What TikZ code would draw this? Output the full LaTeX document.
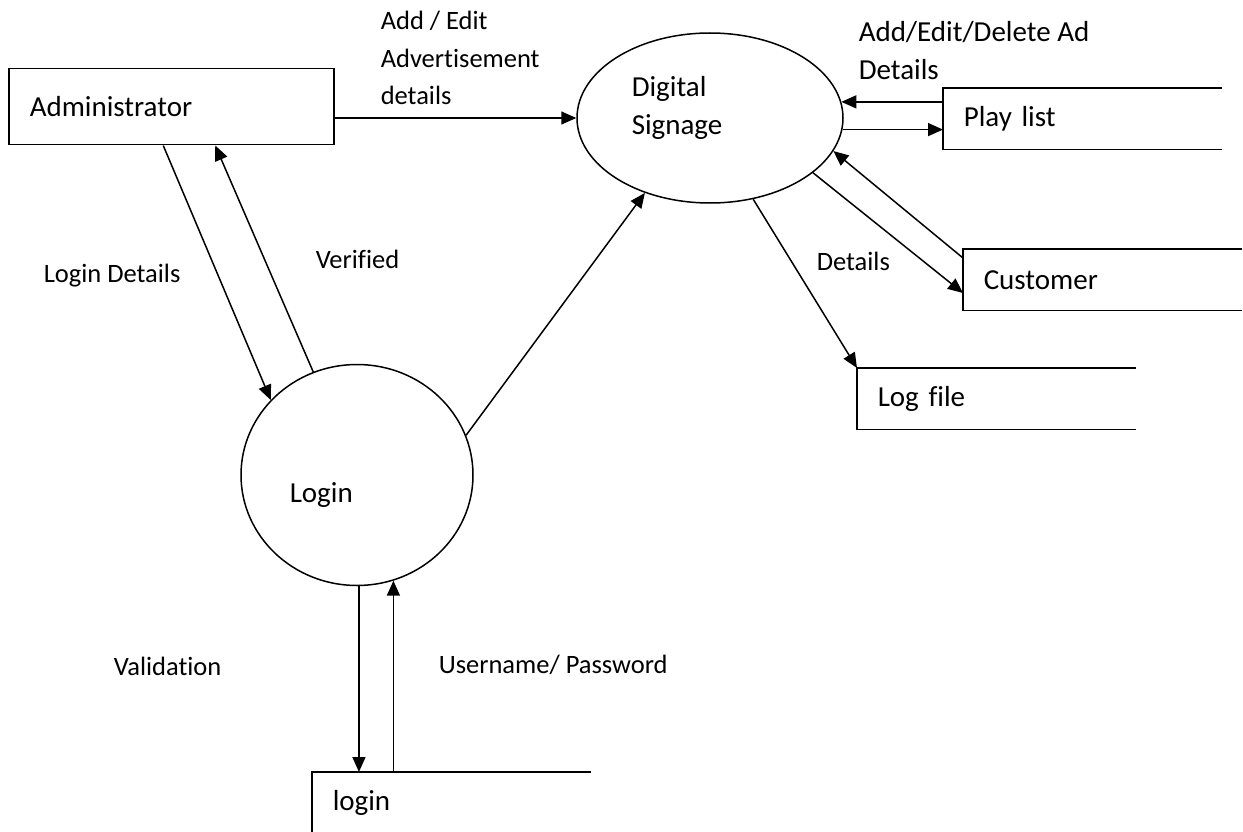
\documentclass[tikz,border=0pt]{standalone}
\usepackage{fontspec}
\setmainfont{Carlito}[Ligatures=NoCommon]
\usetikzlibrary{shapes.geometric,arrows.meta,positioning,calc}

\begin{document}
\begin{tikzpicture}[x=1pt,y=-1pt,->,>={Triangle[length=15pt,width=13pt]},
  line width=1.5pt,
  every node/.style={font=\fontsize{26.5}{37.5}\selectfont,inner sep=0pt},
  big text/.style={font=\fontsize{29}{38}\selectfont},
  entity node/.style={rectangle,draw,big text,anchor=north west,minimum width=325,
    minimum height=76,text width=283,inner xsep=21,align=left},
  store node/.style={rectangle,big text,anchor=north west,minimum width=277,
    minimum height=60,text width=237,inner xsep=20,align=left},
  bubble node/.style={ellipse,draw},
  bubble text/.style={big text,anchor=base west,align=left},
  flow label/.style={anchor=base west,align=left}]

  \useasboundingbox (0,0) rectangle (1243,832);

  \node[entity node] (admin) at (8,68) {Administrator};
  \node[bubble node,minimum width=266,minimum height=170] (ds) at (710,118) {};
  \node[bubble node,minimum width=232,minimum height=221] (login) at (357,475) {};
  % base of a two line node is the last line
  \node[bubble text] (dstext) at (631,135) {Digital\\Signage};
  \node[bubble text] (logintext) at (289,502) {Login};

  \node[store node] (playlist) at (943,88) {Play list};
  \node[store node] (customer) at (963,249) {Customer};
  \node[store node] (logfile) at (857,368) {Log file};
  \node[store node] (store) at (312,772) {login};
  \foreach \s in {playlist,customer,logfile,store}
    \draw[-] (\s.north east) -- (\s.north west) -- (\s.south west) -- (\s.south east);

  \node[flow label] (lbladd) at (380,105) {Add / Edit\\Advertisement\\details};
  \node[flow label,big text] (lbladdel) at (858,80) {Add/Edit/Delete Ad\\Details};
  \node[flow label] (lbllogin) at (43,282) {Login Details};
  \node[flow label] (lblver) at (315,268) {Verified};
  \node[flow label] (lbldet) at (816,270) {Details};
  \node[flow label] (lblval) at (113,675) {Validation};
  \node[flow label] (lbluser) at (438,673) {Username/ Password};

  \path
    (admin.east |- ds.west) edge (ds.west)
    ([xshift=-8]admin.south) edge (login.139)
    (login.113) edge ([xshift=44]admin.south)
    (login.20) edge (ds.229)
    (ds.7 -| playlist.west) edge (ds.7)
    (ds.-5) edge (ds.-5 -| playlist.west)
    ([yshift=-9]customer.north west) edge (ds.-15)
    (ds.-28) edge ([yshift=-44]customer.north west)
    (ds.-62) edge (logfile.north west)
    (login.271) edge (login.271 |- store.north)
    (login.289 |- store.north) edge (login.289);
\end{tikzpicture}
\end{document}
